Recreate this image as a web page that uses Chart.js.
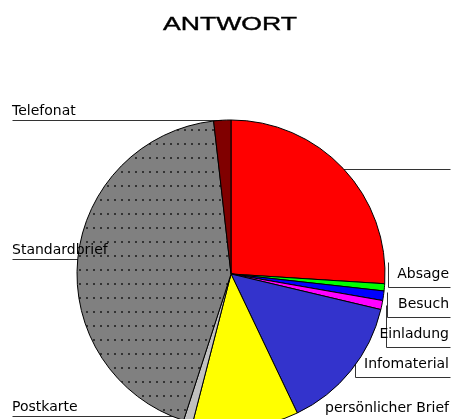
<!DOCTYPE html>
<html>
<head>
<meta charset="utf-8">
<script src="https://cdn.jsdelivr.net/npm/chart.js@4"></script>
<style>
  html, body { margin: 0; padding: 0; background: #fff; overflow: hidden; }
  #wrap { width: 453px; height: 419px; overflow: hidden; }
</style>
</head>
<body>
<div id="wrap"><canvas id="chart" width="453" height="460"></canvas></div>
<script>
const chartTitle = 'ANTWORT';
const categories = ['', 'Absage', 'Besuch', 'Einladung', 'Infomaterial', 'persönlicher Brief', 'Postkarte', 'Standardbrief', 'Telefonat'];
const values = [26.0, 0.75, 1.0, 0.95, 14.2, 11.1, 0.97, 43.2, 1.8];

// dotted grey fill for the big slice
function dotPattern() {
    const c = document.createElement('canvas');
    c.width = 14; c.height = 14;
    const g = c.getContext('2d');
    g.fillStyle = '#808080';
    g.fillRect(0, 0, 14, 14);
    g.fillStyle = '#333';
    [[2, 3], [9, 3]].forEach(p => g.fillRect(p[0], p[1], 2, 2));
    return g.createPattern(c, 'repeat');
}

const colors = ['#ff0000', '#00ff00', '#0000ff', '#ff00ff', '#3333cc', '#ffff00', '#c0c0c0', dotPattern(), '#800000'];

function layoutLabels(chart) {
    const arcs = chart.getDatasetMeta(0).data;
    const out = [];
    let lastBottom = -Infinity;
    arcs.forEach((arc, i) => {
        const p = arc.getProps(['x', 'y', 'startAngle', 'endAngle', 'outerRadius'], true);
        const mid = (p.startAngle + p.endAngle) / 2;
        const ax = p.x + Math.cos(mid) * p.outerRadius;
        const ay = p.y + Math.sin(mid) * p.outerRadius;
        const text = categories[i];
        if (ax < p.x) {
            const ly = Math.min(ay, 416);
            out.push({ text, tx: 12, ty: ly - 5, align: 'left', lines: [[12, ly, ax, ly]] });
        } else if (!text) {
            out.push({ text, lines: [[ax, ay, 450, ay]] });
        } else {
            const bottom = Math.min(Math.max(ay, lastBottom + 30), 421);
            lastBottom = bottom;
            const left = ax + 4;
            out.push({ text, tx: 449, ty: bottom - 9, align: 'right',
                lines: [[left, Math.min(ay, bottom - 25), left, bottom], [left, bottom, 450, bottom]] });
        }
    });
    return out;
}

const labelPlugin = {
    id: 'sliceLabels',
    beforeDatasetsDraw(chart) {
        const ctx = chart.ctx;
        ctx.save();
        ctx.strokeStyle = '#333';
        ctx.lineWidth = 1;
        layoutLabels(chart).forEach(l => {
            l.lines.forEach(s => {
                ctx.beginPath();
                ctx.moveTo(Math.round(s[0]) + 0.5, Math.round(s[1]) + 0.5);
                ctx.lineTo(Math.round(s[2]) + 0.5, Math.round(s[3]) + 0.5);
                ctx.stroke();
            });
        });
        ctx.restore();
    },
    afterDraw(chart) {
        const ctx = chart.ctx;
        ctx.save();
        ctx.fillStyle = '#000';
        ctx.font = "14px 'DejaVu Sans'";
        ctx.textBaseline = 'alphabetic';
        layoutLabels(chart).forEach(l => {
            if (!l.text) return;
            ctx.textAlign = l.align;
            ctx.fillText(l.text, l.tx, l.ty);
        });
        // title, drawn wide like the original
        ctx.font = "19px 'Liberation Sans'";
        ctx.textAlign = 'center';
        ctx.translate(230, 30);
        ctx.scale(1.4, 1);
        ctx.strokeStyle = '#000';
        ctx.lineWidth = 0.4;
        ctx.fillText(chartTitle, 0, 0);
        ctx.strokeText(chartTitle, 0, 0);
        ctx.restore();
    }
};

new Chart(document.getElementById('chart'), {
    type: 'pie',
    data: {
        labels: categories,
        datasets: [{
            data: values,
            backgroundColor: colors,
            borderColor: '#000',
            borderWidth: 1,
            radius: 154
        }]
    },
    options: {
        responsive: false,
        animation: false,
        events: [],
        layout: { padding: { left: 9, right: 0, top: 88, bottom: 0 } },
        plugins: {
            legend: { display: false },
            tooltip: { enabled: false },
            title: { display: false }
        }
    },
    plugins: [labelPlugin]
});
</script>
</body>
</html>
